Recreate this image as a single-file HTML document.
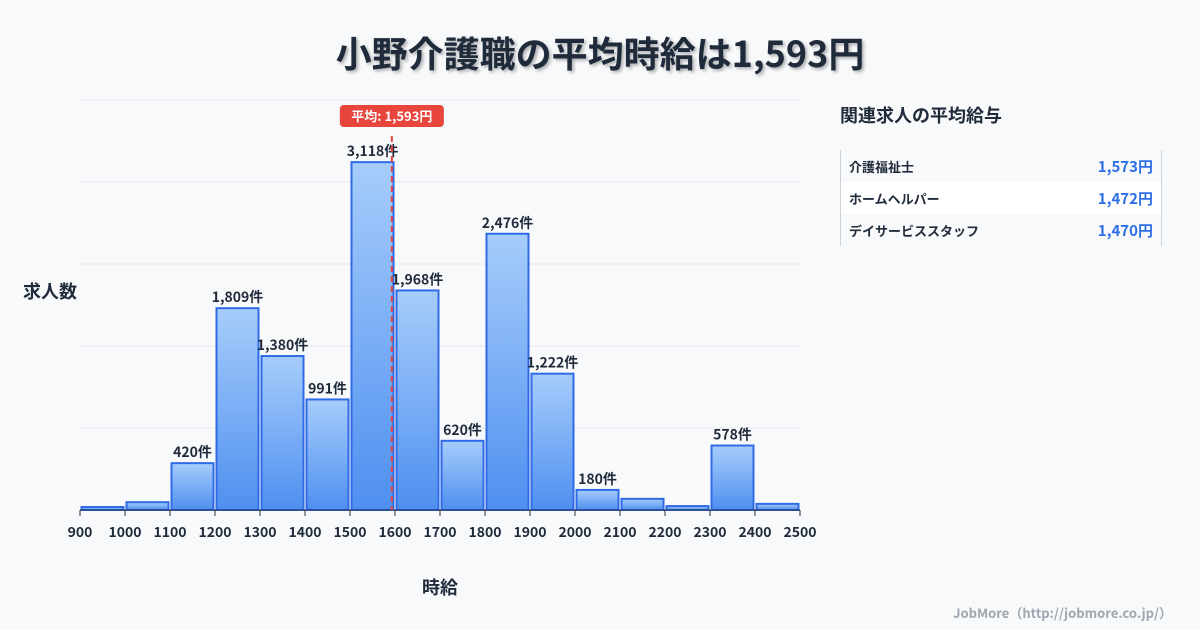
<!DOCTYPE html>
<html><head><meta charset="utf-8"><style>
body{margin:0;width:1200px;height:630px;background:#f8f9fb;font-family:"Noto Sans CJK JP","Liberation Sans",sans-serif;position:relative;overflow:hidden;color:#1f2a3a}
.title{position:absolute;top:27px;left:0;width:1200px;text-align:center;font-size:36px;font-weight:bold;color:#1f2a3a;text-shadow:2px 2px 3px rgba(0,0,0,0.3);line-height:50px}
.side{position:absolute;left:840px;top:100px;width:322px}
.side h3{margin:0;font-size:18px;font-weight:bold;color:#1f2a3a;line-height:30px}
.tbl{margin-top:20px;border-left:1px solid #ccd3dd;border-right:1px solid #ccd3dd}
.row{height:32px;display:flex;justify-content:space-between;align-items:center;padding:0 8px;font-size:13px;font-weight:bold}
.row:nth-child(2){background:#fff}
.row span:last-child{color:#2f6fe6;font-size:15px}
.foot{position:absolute;right:28px;bottom:8px;font-size:13px;color:#a0a6b0;font-weight:bold}
</style></head><body>
<div class="title">小野介護職の平均時給は1,593円</div>
<svg id="chart" width="820" height="630" style="position:absolute;left:0;top:0;font-family:'Noto Sans CJK JP','Liberation Sans',sans-serif"></svg>
<div class="side">
<h3>関連求人の平均給与</h3>
<div class="tbl">
<div class="row"><span>介護福祉士</span><span>1,573円</span></div>
<div class="row"><span>ホームヘルパー</span><span>1,472円</span></div>
<div class="row"><span>デイサービススタッフ</span><span>1,470円</span></div>
</div></div>
<div class="foot">JobMore（http://jobmore.co.jp/）</div>
<script>
const binStarts=[900,1000,1100,1200,1300,1400,1500,1600,1700,1800,1900,2000,2100,2200,2300,2400];
const counts=[27,70,420,1809,1380,991,3118,1968,620,2476,1222,180,100,35,578,55];
const showLabel=[false,false,true,true,true,true,true,true,true,true,true,true,false,false,true,false];
const xTicks=[900,1000,1100,1200,1300,1400,1500,1600,1700,1800,1900,2000,2100,2200,2300,2400,2500];
const avgValue=1593;
const yMax=3675;
const NS="http://www.w3.org/2000/svg";
const svg=document.getElementById('chart');
const x0=80,x1=800,yTop=100,yBase=510;
const X=v=>x0+(v-900)/(2500-900)*(x1-x0);
const Y=v=>yBase-v/yMax*(yBase-yTop);
function mk(t,a){const e=document.createElementNS(NS,t);for(const k in a)e.setAttribute(k,a[k]);svg.appendChild(e);return e;}
const defs=mk('defs',{});
defs.innerHTML='<linearGradient id="g" x1="0" y1="0" x2="0" y2="1"><stop offset="0" stop-color="#a6cdfb"/><stop offset="1" stop-color="#4f8ff0"/></linearGradient>';
for(let i=0;i<=5;i++){const y=yBase-i*(yBase-yTop)/5;const l=mk('line',{x1:x0,x2:x1,y1:y,y2:y,stroke:'#e3e7ee','stroke-width':1});

}
const w=(x1-x0)/16;
binStarts.forEach((b,i)=>{
const r=mk('rect',{x:X(b)+1.5,y:Y(counts[i]),width:w-3,height:yBase-Y(counts[i]),fill:'url(#g)',stroke:'#2f6be6','stroke-width':2});


if(showLabel[i]){const t=mk('text',{x:X(b)+w/2,y:Y(counts[i])-6,'text-anchor':'middle','font-size':14,'font-weight':'bold',fill:'#1f2a3a'});
t.textContent=counts[i].toLocaleString('en-US')+'件';

}
});
mk('line',{x1:x0,x2:x1,y1:yBase,y2:yBase,stroke:'#2a3444','stroke-width':1});
xTicks.forEach(v=>{mk('line',{x1:X(v),x2:X(v),y1:yBase,y2:yBase+6,stroke:'#2a3444'});
const t=mk('text',{x:X(v),y:537,'text-anchor':'middle','font-size':14,'font-weight':'bold',fill:'#1f2a3a'});
t.textContent=v;

});
const ax=X(avgValue);
const al=mk('line',{x1:ax,x2:ax,y1:136,y2:yBase,stroke:'#e8453c','stroke-width':2,'stroke-dasharray':'6,4'});


const ab=mk('rect',{x:ax-52,y:105,width:104,height:22,rx:4,fill:'#e8453c'});


const at=mk('text',{x:ax,y:121,'text-anchor':'middle','font-size':13,'font-weight':'bold',fill:'#fff'});
at.textContent='平均: '+avgValue.toLocaleString('en-US')+'円';
const yl=mk('text',{x:50,y:298,'text-anchor':'middle','font-size':18,'font-weight':'bold',fill:'#1f2a3a'});
yl.textContent='求人数';


const xl=mk('text',{x:440,y:594,'text-anchor':'middle','font-size':18,'font-weight':'bold',fill:'#1f2a3a'});
xl.textContent='時給';


</script>
</body></html>
